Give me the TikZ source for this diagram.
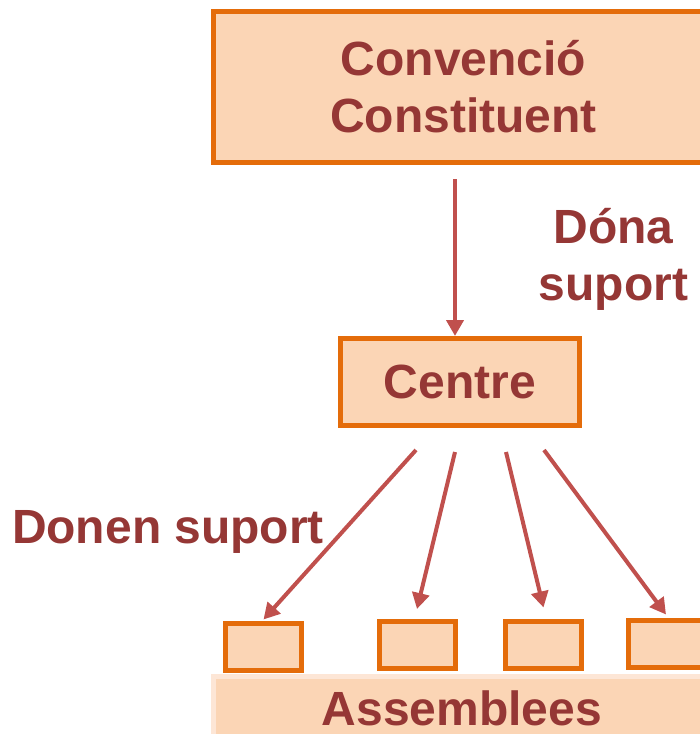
\documentclass[tikz,border=0pt]{standalone}
\usepackage{fontspec}
\setmainfont{Liberation Sans}
\usetikzlibrary{arrows.meta}
\definecolor{boxorange}{HTML}{E46C0A}
\definecolor{boxfill}{HTML}{FBD5B5}
\definecolor{boxedge}{HTML}{FDE6D6}
\definecolor{txtred}{HTML}{953735}
\definecolor{arrred}{HTML}{C0504D}

\begin{document}
\begin{tikzpicture}[x=1pt, y=-1pt,
	bigtext/.style={text=txtred, font=\fontsize{48}{57}\selectfont\bfseries, align=center},
	orgbox/.style={draw=boxorange, fill=boxfill, line width=5pt, inner sep=0pt},
	smallbox/.style={orgbox, minimum width=76pt, minimum height=47pt},
	arr/.style={draw=arrred, line width=4pt, -{Triangle[width=17pt,length=16pt]}}]
				\clip (0,0) rectangle (700,734);
				\node[orgbox, minimum width=500pt, minimum height=151pt, bigtext] (conv)at(463.5, 87) {Convenció\\Constituent};
				\node[orgbox, minimum width=239pt, minimum height=87pt, bigtext] (centre)at(460, 382) {Centre};
				\node[bigtext] (dona)at(613.5, 259) {Dóna\\suport};
				\node[bigtext, anchor=base] (donen)at(168, 543) {Donen suport};
				\node[smallbox] (box1)at(263.5, 646.5) {};
				\node[smallbox] (box2)at(417, 645) {};
				\node[smallbox] (box3)at(543.5, 644.5) {};
				\node[smallbox] (box4)at(666, 643.5) {};
				\node[draw=boxedge, fill=boxfill, line width=5pt, minimum width=500pt, minimum height=90pt] (assem)at(463.5, 721) {};
				\node[bigtext, anchor=base] (assemtxt)at(462, 725) {Assemblees};
				\draw[arr] ([xshift=-8.5pt, yshift=-14pt]conv.south) -- ([xshift=-5pt]centre.north);
				\draw[arr] ([xshift=-44pt, yshift=-22pt]centre.south) -- ([yshift=1pt]box1.north);
				\draw[arr] ([xshift=-5pt, yshift=-24pt]centre.south) -- ([yshift=10pt]box2.north);
				\draw[arr] ([xshift=46pt, yshift=-24pt]centre.south) -- ([yshift=11pt]box3.north);
				\draw[arr] ([xshift=84pt, yshift=-22pt]centre.south) -- ([yshift=3pt]box4.north);
			\end{tikzpicture}
\end{document}
